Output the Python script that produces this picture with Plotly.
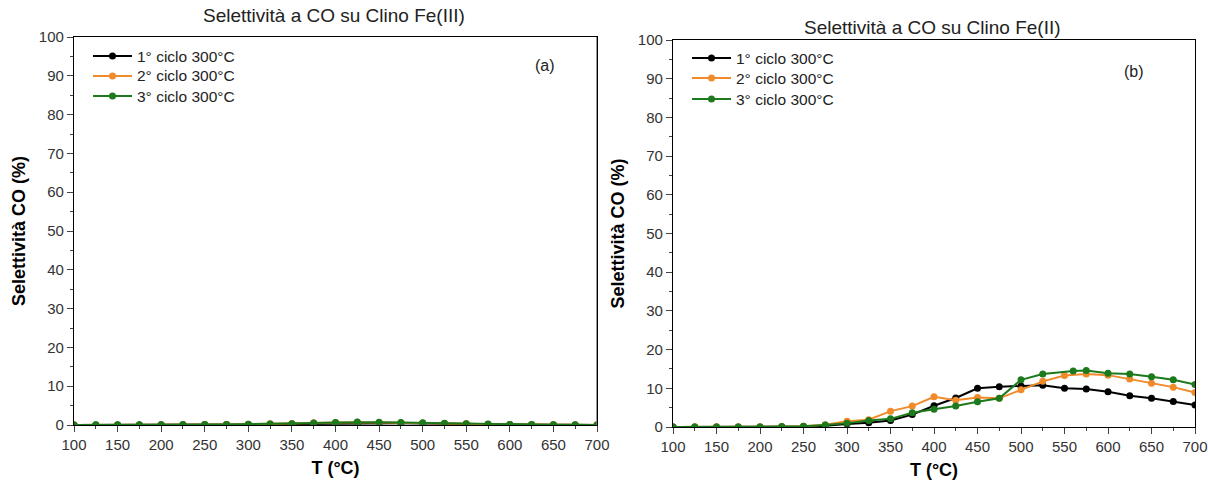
import plotly.graph_objects as go

# ---------------- data ----------------
T = [100, 125, 150, 175, 200, 225, 250, 275, 300, 325, 350, 375, 400,
     425, 450, 475, 500, 525, 550, 575, 600, 625, 650, 675, 700]

# Panel (a) Clino Fe(III)
a_c1 = [0.0, 0.0, 0.0, 0.0, 0.05, 0.05, 0.1, 0.1, 0.15, 0.2, 0.25, 0.35, 0.45,
        0.5, 0.5, 0.45, 0.4, 0.3, 0.25, 0.15, 0.1, 0.05, 0.05, 0.0, 0.0]
a_c2 = [0.0, 0.0, 0.0, 0.0, 0.05, 0.05, 0.1, 0.15, 0.2, 0.3, 0.4, 0.55, 0.65,
        0.7, 0.65, 0.6, 0.5, 0.4, 0.3, 0.2, 0.15, 0.1, 0.05, 0.05, 0.0]
a_c3 = [0.0, 0.05, 0.05, 0.05, 0.05, 0.1, 0.15, 0.15, 0.2, 0.25, 0.35, 0.5, 0.65,
        0.75, 0.7, 0.65, 0.55, 0.45, 0.35, 0.25, 0.15, 0.1, 0.05, 0.05, 0.0]

# Panel (b) Clino Fe(II)
b_c1 = [0.0, 0.0, 0.0, 0.0, 0.0, 0.0, 0.1, 0.3, 0.8, 1.1, 1.7, 3.2, 5.5,
        7.5, 10.0, 10.4, 10.6, 10.8, 10.0, 9.8, 9.1, 8.1, 7.4, 6.6, 5.7]
b_c2 = [0.0, 0.0, 0.0, 0.0, 0.0, 0.1, 0.2, 0.6, 1.5, 1.9, 4.1, 5.4, 7.8,
        6.9, 7.6, 7.4, 9.6, 11.8, 13.3, 13.7, 13.4, 12.4, 11.3, 10.3, 8.9]
T_b3 = [100, 125, 150, 175, 200, 225, 250, 275, 300, 325, 350, 375, 400,
        425, 450, 475, 500, 525, 560, 575, 600, 625, 650, 675, 700]
b_c3 = [0.0, 0.0, 0.0, 0.0, 0.0, 0.1, 0.2, 0.5, 1.0, 1.7, 2.1, 3.7, 4.6,
        5.4, 6.5, 7.4, 12.2, 13.7, 14.5, 14.6, 13.9, 13.7, 13.0, 12.2, 11.0]

names = ["1° ciclo 300°C", "2° ciclo 300°C", "3° ciclo 300°C"]
colors = ["#000000", "#F08A2A", "#1C7A1C"]

titles = ["Selettività a CO su Clino Fe(III)", "Selettività a CO su Clino Fe(II)"]
panel_labels = ["(a)", "(b)"]
x_ticks = [100, 150, 200, 250, 300, 350, 400, 450, 500, 550, 600, 650, 700]
y_ticks = [0, 10, 20, 30, 40, 50, 60, 70, 80, 90, 100]

fig = go.Figure()

def add(x, y, i, xa, ya):
    fig.add_trace(go.Scatter(
        x=x, y=y, mode="lines+markers", name=names[i],
        line=dict(color=colors[i], width=2),
        marker=dict(color=colors[i], size=7),
        xaxis=xa, yaxis=ya, showlegend=False))

for i, y in enumerate([a_c1, a_c2, a_c3]):
    add(T, y, i, "x", "y")
add(T, b_c1, 0, "x2", "y2")
add(T, b_c2, 1, "x2", "y2")
add(T_b3, b_c3, 2, "x2", "y2")

W, H = 1208, 486
dom_a = [74 / W, 597 / W]
dom_b = [673 / W, 1195 / W]
ydom_a = [1 - 425 / H, 1 - 37 / H]
ydom_b = [1 - 427 / H, 1 - 40 / H]

tickfont = dict(family="Arial", size=15, color="#333333")
axis_common = dict(
    showgrid=False, zeroline=False, showline=True, linecolor="#000000", linewidth=1.3,
    mirror=True, ticks="outside", ticklen=6, tickcolor="#444444", tickwidth=1,
    tickfont=tickfont, automargin=False,
)
xcommon = dict(axis_common, range=[100, 700], tickvals=x_ticks,
               minor=dict(ticks="outside", ticklen=3, tickcolor="#444444", dtick=25, tick0=100),
               title=dict(text="<b>T (°C)</b>", font=dict(family="Arial", size=18, color="#000"), standoff=9))
ycommon = dict(axis_common, range=[0, 100], tickvals=y_ticks,
               minor=dict(ticks="outside", ticklen=3, tickcolor="#444444", dtick=5, tick0=0),
               title=dict(text="<b>Selettività CO (%)</b>", font=dict(family="Arial", size=18, color="#000"), standoff=8))

annotations = []
shapes = [
    dict(type="line", xref="x", yref="y domain", x0=700, x1=700, y0=0, y1=1,
         line=dict(color="#777777", width=1.5)),
]

# in-plot legends (drawn in pixel space of the paper)
legend_pos = [(93, [56, 76, 96]), (692, [58, 78, 99])]
for lx, rows in legend_pos:
    for i, ry in enumerate(rows):
        yp = 1 - ry / H
        shapes.append(dict(type="line", xref="paper", yref="paper",
                           x0=lx / W, x1=(lx + 39) / W, y0=yp, y1=yp,
                           line=dict(color=colors[i], width=2)))
        shapes.append(dict(type="circle", xref="paper", yref="paper",
                           x0=(lx + 16) / W, x1=(lx + 23) / W,
                           y0=yp - 3.5 / H, y1=yp + 3.5 / H,
                           fillcolor=colors[i], line=dict(color=colors[i], width=0)))
        annotations.append(dict(text=names[i], x=(lx + 42) / W, y=yp,
                                xref="paper", yref="paper", showarrow=False,
                                xanchor="left", yanchor="middle",
                                font=dict(family="Arial", size=15.5, color="#222222")))

title_pos = [(334, 16), (932, 27)]
for t, (tx, ty) in zip(titles, title_pos):
    annotations.append(dict(text=t, x=tx / W, y=1 - ty / H, xref="paper", yref="paper",
                            showarrow=False, font=dict(family="Arial", size=19, color="#222"),
                            xanchor="center", yanchor="middle"))
label_pos = [(545, 66), (1134, 71)]
for t, (tx, ty) in zip(panel_labels, label_pos):
    annotations.append(dict(text=t, x=tx / W, y=1 - ty / H, xref="paper", yref="paper",
                            showarrow=False, font=dict(family="Arial", size=16, color="#222"),
                            xanchor="center", yanchor="middle"))

fig.update_layout(
    template="none",
    width=W, height=H,
    margin=dict(l=0, r=0, t=0, b=0),
    paper_bgcolor="white", plot_bgcolor="white",
    showlegend=False,
    xaxis=dict(xcommon, domain=dom_a, anchor="y"),
    yaxis=dict(ycommon, domain=ydom_a, anchor="x"),
    xaxis2=dict(xcommon, domain=dom_b, anchor="y2"),
    yaxis2=dict(ycommon, domain=ydom_b, anchor="x2"),
    annotations=annotations,
    shapes=shapes,
)

fig.write_html("out.html")
